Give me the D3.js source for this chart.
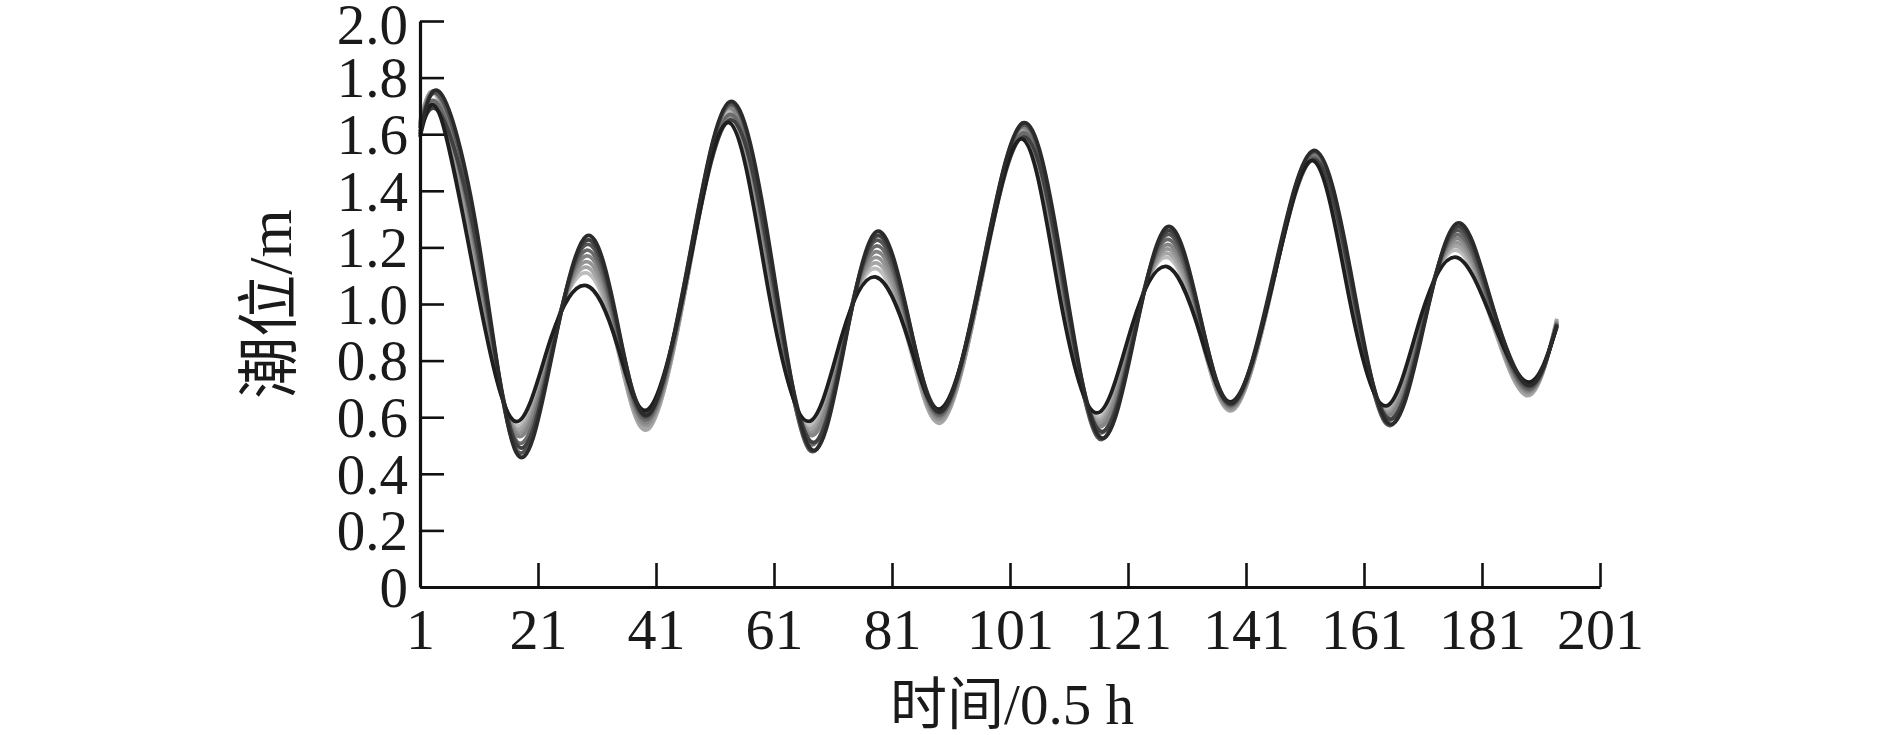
<!DOCTYPE html>
<html>
<head>
<meta charset="utf-8">
<script src="https://cdn.jsdelivr.net/npm/d3@7"></script>
<style>
  html, body { margin: 0; padding: 0; background: #fff; }
  svg { display: block; }
  .tick text, .lbl { font-family: "Liberation Serif", "Times New Roman", "Noto Sans CJK SC", serif; fill: #1a1a1a; }
</style>
</head>
<body>
<svg id="chart" width="1889" height="735"></svg>
<script>
// ---- data ----
const times = [1, 4.5, 10.8, 17.2, 23.2, 29.2, 34.5, 39.8, 46.6, 53.5, 60.2, 66.8, 72.6, 78.3, 83.9, 89.5, 96.3, 103.2, 109.5, 115.8, 121.7, 127.6, 133.2, 138.8, 145.6, 152.4, 158.6, 164.8, 170.7, 176.7, 182.7, 188.8, 193.7];

const s4 = [1.645, 1.70, 1.065, 0.57, 0.87, 1.11, 0.84, 0.565, 1.12, 1.68, 1.05, 0.57, 0.885, 1.125, 0.855, 0.588, 1.10, 1.612, 1.04, 0.60, 0.915, 1.165, 0.895, 0.628, 1.075, 1.523, 1.025, 0.63, 0.95, 1.19, 0.935, 0.68, 0.945];
const s3 = [1.64, 1.71, 1.09, 0.56, 0.86, 1.13, 0.845, 0.56, 1.125, 1.69, 1.075, 0.56, 0.875, 1.145, 0.865, 0.583, 1.10, 1.618, 1.06, 0.59, 0.905, 1.18, 0.90, 0.625, 1.075, 1.528, 1.04, 0.622, 0.94, 1.205, 0.94, 0.676, 0.948];
const s6 = [1.625, 1.68, 1.115, 0.55, 0.85, 1.15, 0.86, 0.575, 1.12, 1.66, 1.10, 0.55, 0.865, 1.165, 0.88, 0.595, 1.095, 1.598, 1.08, 0.58, 0.895, 1.195, 0.915, 0.632, 1.075, 1.515, 1.055, 0.615, 0.93, 1.218, 0.95, 0.686, 0.94];
const s2 = [1.63, 1.72, 1.14, 0.54, 0.84, 1.17, 0.88, 0.585, 1.14, 1.695, 1.12, 0.54, 0.855, 1.185, 0.895, 0.603, 1.115, 1.625, 1.10, 0.57, 0.885, 1.21, 0.925, 0.637, 1.085, 1.532, 1.07, 0.608, 0.92, 1.232, 0.96, 0.692, 0.937];
const s5 = [1.635, 1.69, 1.165, 0.52, 0.83, 1.19, 0.89, 0.595, 1.13, 1.67, 1.14, 0.51, 0.845, 1.205, 0.91, 0.61, 1.11, 1.605, 1.12, 0.55, 0.875, 1.228, 0.935, 0.642, 1.08, 1.519, 1.085, 0.592, 0.91, 1.245, 0.97, 0.698, 0.933];
const s1 = [1.62, 1.73, 1.215, 0.49, 0.82, 1.21, 0.91, 0.605, 1.155, 1.705, 1.19, 0.49, 0.835, 1.225, 0.92, 0.617, 1.125, 1.632, 1.16, 0.53, 0.865, 1.245, 0.945, 0.646, 1.09, 1.537, 1.115, 0.576, 0.90, 1.26, 0.98, 0.705, 0.93];
const s7 = [1.61, 1.67, 1.19, 0.51, 0.81, 1.225, 0.92, 0.62, 1.135, 1.65, 1.165, 0.525, 0.825, 1.24, 0.935, 0.628, 1.11, 1.59, 1.14, 0.56, 0.855, 1.258, 0.955, 0.653, 1.08, 1.51, 1.10, 0.60, 0.89, 1.272, 0.995, 0.718, 0.924];
const s8 = [1.59, 1.66, 1.04, 0.585, 0.88, 1.065, 0.85, 0.63, 1.135, 1.64, 1.03, 0.585, 0.895, 1.095, 0.865, 0.633, 1.11, 1.582, 1.02, 0.615, 0.925, 1.132, 0.895, 0.657, 1.08, 1.506, 1.01, 0.64, 0.96, 1.165, 0.945, 0.724, 0.92];
const s0 = [1.60, 1.745, 1.24, 0.48, 0.80, 1.24, 0.93, 0.61, 1.16, 1.715, 1.21, 0.50, 0.815, 1.255, 0.94, 0.622, 1.13, 1.64, 1.18, 0.54, 0.845, 1.272, 0.96, 0.65, 1.10, 1.542, 1.13, 0.584, 0.88, 1.285, 1.00, 0.712, 0.927];

const seriesValues = [s4, s3, s6, s2, s5, s1, s7, s8, s0];
const seriesColors = ["#bdbdbd", "#a6a6a6", "#959595", "#858585", "#6a6a6a", "#555555", "#404040", "#1e1e1e", "#2b2b2b"];

const xTicks = [1, 21, 41, 61, 81, 101, 121, 141, 161, 181, 201];
const yTicks = [0, 0.2, 0.4, 0.6, 0.8, 1.0, 1.2, 1.4, 1.6, 1.8, 2.0];
const xTitle = "时间/0.5 h";
const yTitle = "潮位/m";

// ---- layout ----
const mLeft = 420, mRight = 1600, mTop = 21, mBottom = 587;
const svg = d3.select("#chart");
const x = d3.scaleLinear().domain([1, 201]).range([mLeft, mRight]);
const y = d3.scaleLinear().domain([0, 2]).range([mBottom, mTop]);

// lines
const line = d3.line()
  .x((d, i) => x(times[i]))
  .y(d => y(d))
  .curve(d3.curveNatural);

svg.append("g").selectAll("path")
  .data(seriesValues)
  .join("path")
  .attr("d", d => line(d))
  .attr("fill", "none")
  .attr("stroke", (d, i) => seriesColors[i])
  .attr("stroke-width", 3.8)
  .attr("stroke-linejoin", "round");

// axes
const xAxis = d3.axisBottom(x).tickValues(xTicks).tickFormat(d3.format("d"))
  .tickSizeInner(-24).tickSizeOuter(0).tickPadding(0);
const gx = svg.append("g").attr("transform", `translate(0,${mBottom})`).call(xAxis);
gx.select(".domain").attr("stroke", "#111").attr("stroke-width", 3.2);
gx.selectAll(".tick line").attr("stroke", "#111").attr("stroke-width", 2.6);
gx.selectAll(".tick text")
  .attr("y", 62).attr("dy", 0)
  .attr("font-size", 58)
  .attr("text-anchor", "middle");

const yAxis = d3.axisLeft(y).tickValues(yTicks)
  .tickFormat(d => d === 0 ? "0" : d3.format(".1f")(d))
  .tickSizeInner(-24).tickSizeOuter(0).tickPadding(0);
const gy = svg.append("g").attr("transform", `translate(${mLeft},0)`).call(yAxis);
gy.select(".domain").attr("stroke", "#111").attr("stroke-width", 3.2);
gy.selectAll(".tick line").attr("stroke", "#111").attr("stroke-width", 2.6);
gy.selectAll(".tick text")
  .attr("x", -12).attr("dy", "0.34em")
  .attr("font-size", 57)
  .attr("text-anchor", "end");
// keep the topmost label inside the picture
gy.selectAll(".tick text").filter(d => d === 2.0).attr("dy", "0.40em");

// titles
svg.append("text").attr("class", "lbl")
  .attr("x", (mLeft + mRight) / 2 + 2).attr("y", 724)
  .attr("text-anchor", "middle")
  .attr("font-size", 57)
  .text(xTitle);

svg.append("text").attr("class", "lbl")
  .attr("transform", `translate(291,${(mTop + mBottom) / 2}) rotate(-90)`)
  .attr("text-anchor", "middle")
  .attr("font-size", 62)
  .text(yTitle);
</script>
</body>
</html>
